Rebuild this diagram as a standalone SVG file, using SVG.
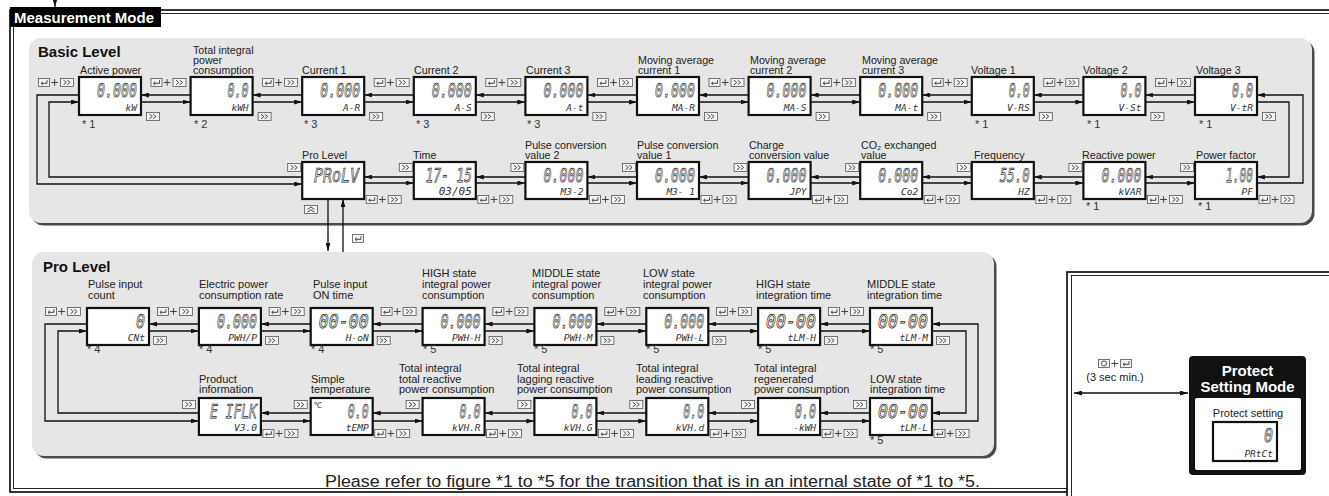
<svg xmlns="http://www.w3.org/2000/svg" xmlns:xlink="http://www.w3.org/1999/xlink" width="1329" height="496" viewBox="0 0 1329 496">
<style>
text{font-family:"Liberation Sans",Arial,sans-serif;fill:#222}
.lb{font-size:10.7px}
.lp{font-size:11px}
.ttl{font-size:15px;font-weight:bold;fill:#111}
.hdr{font-size:15px;font-weight:bold;fill:#fff}
.st{font-size:11px;fill:#333}
.bx{fill:#fff;stroke:#111;stroke-width:2.2}
.bg{font-family:"DejaVu Sans Mono",monospace;font-style:italic;font-size:20px;text-anchor:end;fill:#fff;stroke:#222;stroke-width:0.75}
.sm{font-family:"DejaVu Sans Mono",monospace;font-style:italic;font-size:9.5px;text-anchor:end;fill:#333}
.ln{fill:none;stroke:#111;stroke-width:1.3}
.ki{fill:#f4f4f4;stroke:#555;stroke-width:0.8}
.kg{fill:none;stroke:#444;stroke-width:1}
.pnl{fill:#e6e6e6}
.shd{fill:#4a4a4a}
.fo{fill:none;stroke:#111;stroke-width:1.7}
.fi{fill:none;stroke:#111;stroke-width:0.9}
</style>
<defs>
<marker id="ah" viewBox="0 0 10 6" refX="10" refY="3" markerWidth="8" markerHeight="5" orient="auto-start-reverse" markerUnits="userSpaceOnUse"><path d="M0,0 L10,3 L0,6 z" fill="#111"/></marker>
<g id="kEnt"><rect class="ki" x="0.5" y="0.5" width="11" height="8"/><path class="kg" d="M9,2.2 V5.3 H3.2 M4.8,3.7 L3,5.3 L4.8,6.9"/></g>
<g id="kFF"><rect class="ki" x="0.5" y="0.5" width="13" height="8"/><path class="kg" d="M3.5,2.2 L6.3,4.5 L3.5,6.8 M7.2,2.2 L10,4.5 L7.2,6.8"/></g>
<g id="kEP"><use xlink:href="#kEnt"/><path class="kg" d="M13.3,4.5 H20 M16.65,1.2 V7.8"/><use xlink:href="#kFF" x="22"/></g>
<g id="kUp"><rect class="ki" x="0.5" y="0.5" width="13" height="8"/><path class="kg" d="M3.5,4.4 L7,2 L10.5,4.4 M3.5,7.2 L7,4.8 L10.5,7.2"/></g>
<g id="kCir"><rect class="ki" x="0.5" y="0.5" width="11" height="8"/><circle cx="6" cy="4.5" r="2.6" fill="none" stroke="#444" stroke-width="0.9"/></g>
</defs>

<rect width="1329" height="496" fill="#fff"/>

<g id="measurement-frame">
<rect class="fo" x="10" y="10" width="1340" height="482"/>
<rect class="fi" x="13.5" y="13.5" width="1340" height="475"/>
<rect x="10" y="7" width="151" height="20" fill="#000"/>
<text class="hdr" x="14" y="23">Measurement Mode</text>
</g>

<g id="protect-frame">
<rect x="1067" y="272" width="300" height="300" fill="#fff" stroke="#111" stroke-width="1.7"/>
<rect class="fi" x="1071.5" y="275.5" width="300" height="300"/>
</g>

<g id="basic-panel">
<rect class="shd" x="31.5" y="40.5" width="1283" height="185" rx="12"/>
<rect class="pnl" x="29" y="38" width="1283" height="185" rx="12"/>
<text class="ttl" x="38" y="57">Basic Level</text>
</g>

<g id="pro-panel">
<rect class="shd" x="34.5" y="254.5" width="962" height="204" rx="12"/>
<rect class="pnl" x="32" y="252" width="962" height="204" rx="12"/>
<text class="ttl" x="43" y="272">Pro Level</text>
</g>

<g id="n-active-power"><text class="lb" x="80" y="74">Active power</text><rect class="bx" x="79" y="77" width="62" height="38"/><text class="bg" x="137" y="97" textLength="40" lengthAdjust="spacingAndGlyphs">0.000</text><text class="sm" x="137" y="111">kW</text><text class="st" x="82" y="128">* 1</text></g>
<g id="n-total-integral"><text class="lb" x="193" y="54.4">Total integral</text><text class="lb" x="193" y="64.2">power</text><text class="lb" x="193" y="74">consumption</text><rect class="bx" x="190.6" y="77" width="62" height="38"/><text class="bg" x="248.6" y="97" textLength="21" lengthAdjust="spacingAndGlyphs">0.0</text><text class="sm" x="248.6" y="111">kWH</text><text class="st" x="194" y="128">* 2</text></g>
<g id="n-current1"><text class="lb" x="302" y="74">Current 1</text><rect class="bx" x="302.2" y="77" width="62" height="38"/><text class="bg" x="360.2" y="97" textLength="40" lengthAdjust="spacingAndGlyphs">0.000</text><text class="sm" x="360.2" y="111">A-R</text><text class="st" x="304" y="128">* 3</text></g>
<g id="n-current2"><text class="lb" x="414" y="74">Current 2</text><rect class="bx" x="413.8" y="77" width="62" height="38"/><text class="bg" x="471.8" y="97" textLength="40" lengthAdjust="spacingAndGlyphs">0.000</text><text class="sm" x="471.8" y="111">A-S</text><text class="st" x="416" y="128">* 3</text></g>
<g id="n-current3"><text class="lb" x="526" y="74">Current 3</text><rect class="bx" x="525.4" y="77" width="62" height="38"/><text class="bg" x="583.4" y="97" textLength="40" lengthAdjust="spacingAndGlyphs">0.000</text><text class="sm" x="583.4" y="111">A-t</text><text class="st" x="527" y="128">* 3</text></g>
<g id="n-ma1"><text class="lb" x="638" y="64.2">Moving average</text><text class="lb" x="638" y="74">current 1</text><rect class="bx" x="637" y="77" width="62" height="38"/><text class="bg" x="695" y="97" textLength="40" lengthAdjust="spacingAndGlyphs">0.000</text><text class="sm" x="695" y="111">MA-R</text></g>
<g id="n-ma2"><text class="lb" x="750" y="64.2">Moving average</text><text class="lb" x="750" y="74">current 2</text><rect class="bx" x="748.6" y="77" width="62" height="38"/><text class="bg" x="806.6" y="97" textLength="40" lengthAdjust="spacingAndGlyphs">0.000</text><text class="sm" x="806.6" y="111">MA-S</text></g>
<g id="n-ma3"><text class="lb" x="862" y="64.2">Moving average</text><text class="lb" x="862" y="74">current 3</text><rect class="bx" x="860.2" y="77" width="62" height="38"/><text class="bg" x="918.2" y="97" textLength="40" lengthAdjust="spacingAndGlyphs">0.000</text><text class="sm" x="918.2" y="111">MA-t</text></g>
<g id="n-voltage1"><text class="lb" x="971" y="74">Voltage 1</text><rect class="bx" x="971.8" y="77" width="62" height="38"/><text class="bg" x="1029.8" y="97" textLength="21" lengthAdjust="spacingAndGlyphs">0.0</text><text class="sm" x="1029.8" y="111">V-RS</text><text class="st" x="975" y="128">* 1</text></g>
<g id="n-voltage2"><text class="lb" x="1083" y="74">Voltage 2</text><rect class="bx" x="1083.4" y="77" width="62" height="38"/><text class="bg" x="1141.4" y="97" textLength="21" lengthAdjust="spacingAndGlyphs">0.0</text><text class="sm" x="1141.4" y="111">V-St</text><text class="st" x="1087" y="128">* 1</text></g>
<g id="n-voltage3"><text class="lb" x="1196" y="74">Voltage 3</text><rect class="bx" x="1195" y="77" width="62" height="38"/><text class="bg" x="1253" y="97" textLength="21" lengthAdjust="spacingAndGlyphs">0.0</text><text class="sm" x="1253" y="111">V-tR</text><text class="st" x="1199" y="128">* 1</text></g>

<g id="n-prolevel"><text class="lb" x="302" y="158.5">Pro Level</text><rect class="bx" x="302.2" y="162" width="62" height="37"/><text class="bg" x="359" y="182" textLength="45" lengthAdjust="spacingAndGlyphs">PRoLV</text></g>
<g id="n-time"><text class="lb" x="413" y="158.5">Time</text><rect class="bx" x="413.8" y="162" width="62" height="37"/><text class="bg" x="471.8" y="182" textLength="46" lengthAdjust="spacingAndGlyphs">17- 15</text><text class="sm" x="471.8" y="195" style="font-size:11px">03/05</text></g>
<g id="n-pulse2"><text class="lb" x="525" y="148.5">Pulse conversion</text><text class="lb" x="525" y="158.5">value 2</text><rect class="bx" x="525.4" y="162" width="62" height="37"/><text class="bg" x="583.4" y="182" textLength="40" lengthAdjust="spacingAndGlyphs">0.000</text><text class="sm" x="583.4" y="195">M3-2</text></g>
<g id="n-pulse1"><text class="lb" x="637" y="148.5">Pulse conversion</text><text class="lb" x="637" y="158.5">value 1</text><rect class="bx" x="637" y="162" width="62" height="37"/><text class="bg" x="695" y="182" textLength="40" lengthAdjust="spacingAndGlyphs">0.000</text><text class="sm" x="695" y="195">M3- 1</text></g>
<g id="n-charge"><text class="lb" x="749" y="148.5">Charge</text><text class="lb" x="749" y="158.5">conversion value</text><rect class="bx" x="748.6" y="162" width="62" height="37"/><text class="bg" x="806.6" y="182" textLength="40" lengthAdjust="spacingAndGlyphs">0.000</text><text class="sm" x="806.6" y="195">JPY</text></g>
<g id="n-co2"><text class="lb" x="861" y="148.5">CO₂ exchanged</text><text class="lb" x="861" y="158.5">value</text><rect class="bx" x="860.2" y="162" width="62" height="37"/><text class="bg" x="918.2" y="182" textLength="40" lengthAdjust="spacingAndGlyphs">0.000</text><text class="sm" x="918.2" y="195">Co2</text></g>
<g id="n-frequency"><text class="lb" x="974" y="158.5">Frequency</text><rect class="bx" x="971.8" y="162" width="62" height="37"/><text class="bg" x="1029.8" y="182" textLength="30" lengthAdjust="spacingAndGlyphs">55.0</text><text class="sm" x="1029.8" y="195">HZ</text></g>
<g id="n-reactive"><text class="lb" x="1082" y="158.5">Reactive power</text><rect class="bx" x="1083.4" y="162" width="62" height="37"/><text class="bg" x="1141.4" y="182" textLength="40" lengthAdjust="spacingAndGlyphs">0.000</text><text class="sm" x="1141.4" y="195">kVAR</text><text class="st" x="1086" y="210">* 1</text></g>
<g id="n-powerfactor"><text class="lb" x="1196" y="158.5">Power factor</text><rect class="bx" x="1195" y="162" width="62" height="37"/><text class="bg" x="1253" y="182" textLength="27" lengthAdjust="spacingAndGlyphs">1.00</text><text class="sm" x="1253" y="195">PF</text><text class="st" x="1198" y="210">* 1</text></g>

<g id="n-pulse-count"><text class="lp" x="88" y="288">Pulse input</text><text class="lp" x="88" y="299">count</text><rect class="bx" x="87" y="308" width="62" height="37"/><text class="bg" x="145" y="328" textLength="9" lengthAdjust="spacingAndGlyphs">0</text><text class="sm" x="145" y="341">CNt</text><text class="st" x="87" y="353">* 4</text></g>
<g id="n-rate"><text class="lp" x="199" y="288">Electric power</text><text class="lp" x="199" y="299">consumption rate</text><rect class="bx" x="198.9" y="308" width="62" height="37"/><text class="bg" x="256.9" y="328" textLength="40" lengthAdjust="spacingAndGlyphs">0.000</text><text class="sm" x="256.9" y="341">PWH/P</text><text class="st" x="199" y="353">* 4</text></g>
<g id="n-ontime"><text class="lp" x="313" y="288">Pulse input</text><text class="lp" x="313" y="299">ON time</text><rect class="bx" x="310.7" y="308" width="62" height="37"/><text class="bg" x="368.7" y="328" textLength="50" lengthAdjust="spacingAndGlyphs">00-00</text><text class="sm" x="368.7" y="341">H-oN</text><text class="st" x="311" y="353">* 4</text></g>
<g id="n-high-int"><text class="lp" x="422" y="277">HIGH state</text><text class="lp" x="422" y="288">integral power</text><text class="lp" x="422" y="299">consumption</text><rect class="bx" x="422.6" y="308" width="62" height="37"/><text class="bg" x="480.6" y="328" textLength="40" lengthAdjust="spacingAndGlyphs">0.000</text><text class="sm" x="480.6" y="341">PWH-H</text><text class="st" x="423" y="353">* 5</text></g>
<g id="n-mid-int"><text class="lp" x="532" y="277">MIDDLE state</text><text class="lp" x="532" y="288">integral power</text><text class="lp" x="532" y="299">consumption</text><rect class="bx" x="534.4" y="308" width="62" height="37"/><text class="bg" x="592.4" y="328" textLength="40" lengthAdjust="spacingAndGlyphs">0.000</text><text class="sm" x="592.4" y="341">PWH-M</text><text class="st" x="534" y="353">* 5</text></g>
<g id="n-low-int"><text class="lp" x="643" y="277">LOW state</text><text class="lp" x="643" y="288">integral power</text><text class="lp" x="643" y="299">consumption</text><rect class="bx" x="646.3" y="308" width="62" height="37"/><text class="bg" x="704.3" y="328" textLength="40" lengthAdjust="spacingAndGlyphs">0.000</text><text class="sm" x="704.3" y="341">PWH-L</text><text class="st" x="646" y="353">* 5</text></g>
<g id="n-high-time"><text class="lp" x="756" y="288">HIGH state</text><text class="lp" x="756" y="299">integration time</text><rect class="bx" x="758.1" y="308" width="62" height="37"/><text class="bg" x="816.1" y="328" textLength="50" lengthAdjust="spacingAndGlyphs">00-00</text><text class="sm" x="816.1" y="341">tLM-H</text><text class="st" x="758" y="353">* 5</text></g>
<g id="n-mid-time"><text class="lp" x="867" y="288">MIDDLE state</text><text class="lp" x="867" y="299">integration time</text><rect class="bx" x="870" y="308" width="62" height="37"/><text class="bg" x="928" y="328" textLength="50" lengthAdjust="spacingAndGlyphs">00-00</text><text class="sm" x="928" y="341">tLM-M</text><text class="st" x="870" y="353">* 5</text></g>

<g id="n-product"><text class="lp" x="199" y="382.5">Product</text><text class="lp" x="199" y="393">information</text><rect class="bx" x="198.9" y="398" width="62" height="37"/><text class="bg" x="256.9" y="418" textLength="47" lengthAdjust="spacingAndGlyphs">E IFLK</text><text class="sm" x="256.9" y="431">V3.0</text></g>
<g id="n-temp"><text class="lp" x="311" y="382.5">Simple</text><text class="lp" x="311" y="393">temperature</text><rect class="bx" x="310.7" y="398" width="62" height="37"/><text x="314" y="408" style="font-size:8px">℃</text><text class="bg" x="368.7" y="418" textLength="21" lengthAdjust="spacingAndGlyphs">0.0</text><text class="sm" x="368.7" y="431">tEMP</text></g>
<g id="n-total-reactive"><text class="lp" x="399" y="372">Total integral</text><text class="lp" x="399" y="382.5">total reactive</text><text class="lp" x="399" y="393">power consumption</text><rect class="bx" x="422.6" y="398" width="62" height="37"/><text class="bg" x="480.6" y="418" textLength="21" lengthAdjust="spacingAndGlyphs">0.0</text><text class="sm" x="480.6" y="431">kVH.R</text></g>
<g id="n-lagging"><text class="lp" x="517" y="372">Total integral</text><text class="lp" x="517" y="382.5">lagging reactive</text><text class="lp" x="517" y="393">power consumption</text><rect class="bx" x="534.4" y="398" width="62" height="37"/><text class="bg" x="592.4" y="418" textLength="21" lengthAdjust="spacingAndGlyphs">0.0</text><text class="sm" x="592.4" y="431">kVH.G</text></g>
<g id="n-leading"><text class="lp" x="636" y="372">Total integral</text><text class="lp" x="636" y="382.5">leading reactive</text><text class="lp" x="636" y="393">power consumption</text><rect class="bx" x="646.3" y="398" width="62" height="37"/><text class="bg" x="704.3" y="418" textLength="21" lengthAdjust="spacingAndGlyphs">0.0</text><text class="sm" x="704.3" y="431">kVH.d</text></g>
<g id="n-regenerated"><text class="lp" x="754" y="372">Total integral</text><text class="lp" x="754" y="382.5">regenerated</text><text class="lp" x="754" y="393">power consumption</text><rect class="bx" x="758.1" y="398" width="62" height="37"/><text class="bg" x="816.1" y="418" textLength="21" lengthAdjust="spacingAndGlyphs">0.0</text><text class="sm" x="816.1" y="431">-kWH</text></g>
<g id="n-low-time"><text class="lp" x="870" y="382.5">LOW state</text><text class="lp" x="870" y="393">integration time</text><rect class="bx" x="870" y="398" width="62" height="37"/><text class="bg" x="928" y="418" textLength="50" lengthAdjust="spacingAndGlyphs">00-00</text><text class="sm" x="928" y="431">tLM-L</text><text class="st" x="870" y="444">* 5</text></g>

<g id="n-protect">
<rect x="1189" y="356" width="117" height="119" rx="4" fill="#111"/>
<text class="hdr" x="1247.5" y="376" text-anchor="middle">Protect</text>
<text class="hdr" x="1247.5" y="392" text-anchor="middle">Setting Mode</text>
<rect x="1195" y="398" width="106" height="72" rx="2" fill="#fff"/>
<text class="lp" x="1248" y="417" text-anchor="middle">Protect setting</text>
<rect class="bx" x="1213" y="422" width="64" height="39"/>
<text class="bg" x="1273" y="442" textLength="9" lengthAdjust="spacingAndGlyphs">0</text>
<text class="sm" x="1273" y="457">PRtCt</text>
</g>

<g id="keys">
<use xlink:href="#kEP" x="38" y="78"/>
<use xlink:href="#kEP" x="150.5" y="78"/><use xlink:href="#kEP" x="262.1" y="78"/><use xlink:href="#kEP" x="373.7" y="78"/><use xlink:href="#kEP" x="485.3" y="78"/><use xlink:href="#kEP" x="596.9" y="78"/><use xlink:href="#kEP" x="708.5" y="78"/><use xlink:href="#kEP" x="820.1" y="78"/><use xlink:href="#kEP" x="931.7" y="78"/><use xlink:href="#kEP" x="1043.3" y="78"/><use xlink:href="#kEP" x="1154.9" y="78"/>
<use xlink:href="#kFF" x="146" y="112"/><use xlink:href="#kFF" x="257.6" y="112"/><use xlink:href="#kFF" x="369.2" y="112"/><use xlink:href="#kFF" x="480.8" y="112"/><use xlink:href="#kFF" x="592.4" y="112"/><use xlink:href="#kFF" x="704" y="112"/><use xlink:href="#kFF" x="815.6" y="112"/><use xlink:href="#kFF" x="927.2" y="112"/><use xlink:href="#kFF" x="1038.8" y="112"/><use xlink:href="#kFF" x="1150.4" y="112"/><use xlink:href="#kFF" x="1262" y="112"/>
<use xlink:href="#kFF" x="287.2" y="163"/><use xlink:href="#kFF" x="398.8" y="163"/><use xlink:href="#kFF" x="510.4" y="163"/><use xlink:href="#kFF" x="622" y="163"/><use xlink:href="#kFF" x="733.6" y="163"/><use xlink:href="#kFF" x="845.2" y="163"/><use xlink:href="#kFF" x="956.8" y="163"/><use xlink:href="#kFF" x="1068.4" y="163"/><use xlink:href="#kFF" x="1180" y="163"/>
<use xlink:href="#kEP" x="365.7" y="195"/><use xlink:href="#kEP" x="477.3" y="195"/><use xlink:href="#kEP" x="588.9" y="195"/><use xlink:href="#kEP" x="700.5" y="195"/><use xlink:href="#kEP" x="812.1" y="195"/><use xlink:href="#kEP" x="923.7" y="195"/><use xlink:href="#kEP" x="1035.3" y="195"/><use xlink:href="#kEP" x="1146.9" y="195"/><use xlink:href="#kEP" x="1258.5" y="195"/>
<use xlink:href="#kUp" x="304" y="205"/>
<use xlink:href="#kEnt" x="352" y="234"/>
<use xlink:href="#kEP" x="45" y="307"/><use xlink:href="#kEP" x="156.9" y="307"/><use xlink:href="#kEP" x="268.7" y="307"/><use xlink:href="#kEP" x="380.6" y="307"/><use xlink:href="#kEP" x="492.4" y="307"/><use xlink:href="#kEP" x="604.3" y="307"/><use xlink:href="#kEP" x="716.1" y="307"/><use xlink:href="#kEP" x="828" y="307"/>
<use xlink:href="#kFF" x="153" y="336"/><use xlink:href="#kFF" x="264.9" y="336"/><use xlink:href="#kFF" x="376.7" y="336"/><use xlink:href="#kFF" x="488.6" y="336"/><use xlink:href="#kFF" x="600.4" y="336"/><use xlink:href="#kFF" x="712.3" y="336"/><use xlink:href="#kFF" x="824.1" y="336"/><use xlink:href="#kFF" x="936" y="336"/>
<use xlink:href="#kFF" x="181.9" y="400"/><use xlink:href="#kFF" x="293.7" y="400"/><use xlink:href="#kFF" x="405.6" y="400"/><use xlink:href="#kFF" x="517.4" y="400"/><use xlink:href="#kFF" x="629.3" y="400"/><use xlink:href="#kFF" x="741.1" y="400"/><use xlink:href="#kFF" x="853" y="400"/>
<use xlink:href="#kEP" x="262.4" y="429"/><use xlink:href="#kEP" x="374.2" y="429"/><use xlink:href="#kEP" x="486.1" y="429"/><use xlink:href="#kEP" x="597.9" y="429"/><use xlink:href="#kEP" x="709.8" y="429"/><use xlink:href="#kEP" x="821.6" y="429"/><use xlink:href="#kEP" x="933.5" y="429"/>
<use xlink:href="#kCir" x="1098" y="359"/><path class="kg" d="M1111.3,363.5 H1118 M1114.65,360.2 V366.8"/><use xlink:href="#kEnt" x="1120" y="359"/>
</g>
<text class="lp" x="1115" y="381" text-anchor="middle">(3 sec min.)</text>

<g id="connectors" class="ln" marker-end="url(#ah)">
<path d="M55,0 V7"/>
<path d="M190.6,95 H141"/><path d="M141,102 H190.6"/>
<path d="M302.2,95 H252.6"/><path d="M252.6,102 H302.2"/>
<path d="M413.8,95 H364.2"/><path d="M364.2,102 H413.8"/>
<path d="M525.4,95 H475.8"/><path d="M475.8,102 H525.4"/>
<path d="M637,95 H587.4"/><path d="M587.4,102 H637"/>
<path d="M748.6,95 H699"/><path d="M699,102 H748.6"/>
<path d="M860.2,95 H810.6"/><path d="M810.6,102 H860.2"/>
<path d="M971.8,95 H922.2"/><path d="M922.2,102 H971.8"/>
<path d="M1083.4,95 H1033.8"/><path d="M1033.8,102 H1083.4"/>
<path d="M1195,95 H1145.4"/><path d="M1145.4,102 H1195"/>
<path d="M413.8,177 H364.2"/><path d="M364.2,183 H413.8"/>
<path d="M525.4,177 H475.8"/><path d="M475.8,183 H525.4"/>
<path d="M637,177 H587.4"/><path d="M587.4,183 H637"/>
<path d="M748.6,177 H699"/><path d="M699,183 H748.6"/>
<path d="M860.2,177 H810.6"/><path d="M810.6,183 H860.2"/>
<path d="M971.8,177 H922.2"/><path d="M922.2,183 H971.8"/>
<path d="M1083.4,177 H1033.8"/><path d="M1033.8,183 H1083.4"/>
<path d="M1195,177 H1145.4"/><path d="M1145.4,183 H1195"/>
<path d="M79,95 H37 V184 H302.2"/><path d="M302.2,177 H49 V102 H79"/>
<path d="M1257,102 H1289 V177 H1257"/><path d="M1257,183 H1303 V95 H1257"/>
<path d="M328,199 V251"/><path d="M343,252 V199"/>
<path d="M198.9,324 H149"/><path d="M149,331 H198.9"/>
<path d="M310.7,324 H260.9"/><path d="M260.9,331 H310.7"/>
<path d="M422.6,324 H372.7"/><path d="M372.7,331 H422.6"/>
<path d="M534.4,324 H484.6"/><path d="M484.6,331 H534.4"/>
<path d="M646.3,324 H596.4"/><path d="M596.4,331 H646.3"/>
<path d="M758.1,324 H708.3"/><path d="M708.3,331 H758.1"/>
<path d="M870,324 H820.1"/><path d="M820.1,331 H870"/>
<path d="M310.7,413 H260.9"/><path d="M260.9,421 H310.7"/>
<path d="M422.6,413 H372.7"/><path d="M372.7,421 H422.6"/>
<path d="M534.4,413 H484.6"/><path d="M484.6,421 H534.4"/>
<path d="M646.3,413 H596.4"/><path d="M596.4,421 H646.3"/>
<path d="M758.1,413 H708.3"/><path d="M708.3,421 H758.1"/>
<path d="M870,413 H820.1"/><path d="M820.1,421 H870"/>
<path d="M87,324 H45 V421 H198.9"/><path d="M198.9,413 H58 V331 H87"/>
<path d="M932,331 H966 V413 H932"/><path d="M932,421 H978 V324 H932"/>
<path d="M1074,393 H1188" marker-start="url(#ah)"/>
</g>

<text x="325" y="487" style="font-size:16px" textLength="655" lengthAdjust="spacingAndGlyphs">Please refer to figure *1 to *5 for the transition that is in an internal state of *1 to *5.</text>
</svg>
